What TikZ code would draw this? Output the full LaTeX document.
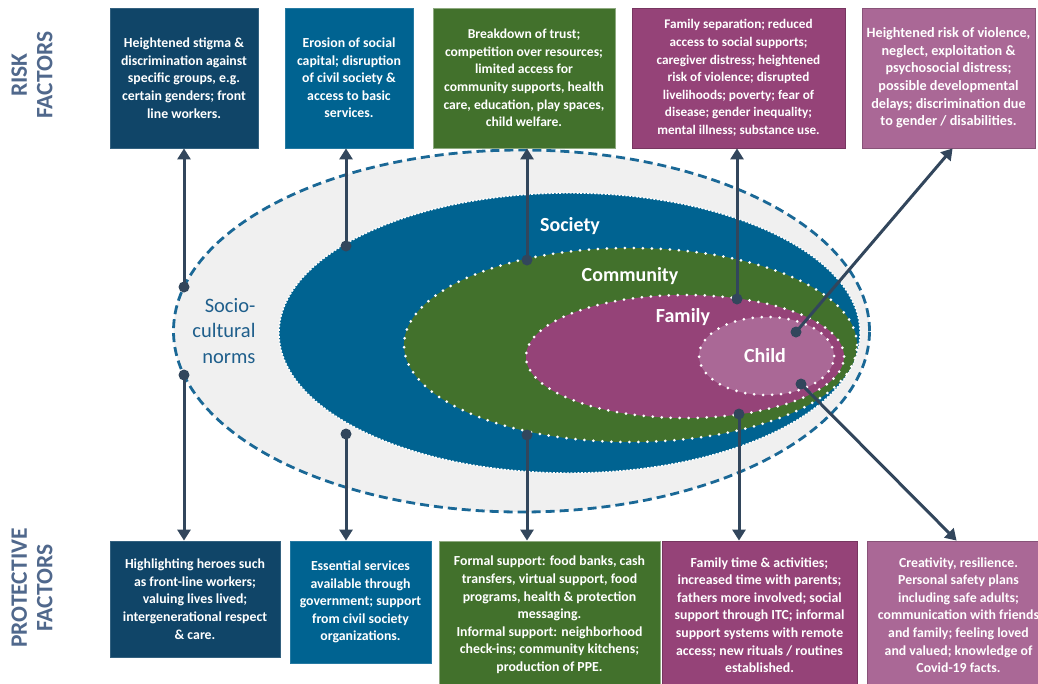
\documentclass[tikz,border=0pt]{standalone}
\usepackage{fontspec}
\setmainfont{Carlito}
\usetikzlibrary{shapes.geometric,arrows.meta,calc}
\definecolor{cnavy}{RGB}{16,69,104}
\definecolor{cblue}{RGB}{0,99,145}
\definecolor{cgreen}{RGB}{66,113,44}
\definecolor{cpurple}{RGB}{149,67,120}
\definecolor{clpurple}{RGB}{170,104,150}
\definecolor{cgray}{RGB}{240,240,240}
\definecolor{cline}{RGB}{50,70,92}
\definecolor{cdash}{RGB}{26,104,150}
\definecolor{clabel}{RGB}{80,104,140}
\definecolor{cnorm}{RGB}{31,95,140}
\newcommand\bxfont[1]{\fontsize{#1}{17.6}\selectfont\bfseries}
\begin{document}
\begin{tikzpicture}[x=1pt,y=-1pt,
  box/.style={rectangle, inner sep=0pt, text=white, align=center,
    font=\bxfont{13.8}, line width=0.8pt},
  conn/.style={draw=cline, line width=3pt, -{Triangle[length=11pt,width=13pt]}},
  dotm/.style={circle, fill=cline, inner sep=0pt, minimum size=11pt},
  ring/.style={ellipse, inner sep=0pt},
  dotring/.style={draw=white, line width=3pt, line cap=round, dash pattern=on 0pt off 9pt},
  ringlabel/.style={text=white, font=\fontsize{20}{24}\selectfont\bfseries},
  sidelabel/.style={rotate=90, align=center, text=clabel, font=\fontsize{23.5}{25.5}\selectfont\bfseries}
]
\useasboundingbox (0,0) rectangle (1038,683);
\clip (0,0) rectangle (1038,683);

% rings
\node[ring, fill=cgray, draw=cdash, line width=2.8pt, dash pattern=on 9pt off 5pt,
  minimum width=696pt, minimum height=362pt] (norms) at (521.5,331) {};
\node[ring, fill=cblue, draw=white, line width=1.4pt, dash pattern=on 2pt off 1.5pt,
  minimum width=581pt, minimum height=280pt] (society) at (569.5,333) {};
\node[ring, fill=cgreen, dotring, minimum width=453pt, minimum height=194pt] (community) at (630.5,345) {};
\node[ring, fill=cpurple, dotring, minimum width=318pt, minimum height=123pt] (family) at (685,356.5) {};
\node[ring, fill=clpurple, dotring, minimum width=135pt, minimum height=78pt] (child) at (766.5,356) {};

% ring labels
\node[ringlabel] (lsoc) at (570,226) {Society};
\node[ringlabel] (lcom) at (630,276) {Community};
\node[ringlabel] (lfam) at (683,317) {Family};
\node[ringlabel] (lchi) at (765,356) {Child};
\node[anchor=east, align=right, text=cnorm, font=\fontsize{20.5}{25.5}\selectfont] (lnorm) at (259,331) {Socio-\\cultural\\norms};

% side labels
\node[sidelabel] (risk) at (32,75) {RISK\\FACTORS};
\node[sidelabel] (prot) at (32,588) {PROTECTIVE\\FACTORS};

% risk boxes
\node[box, fill=cnavy, draw=cnavy!85!white, minimum width=148pt, minimum height=140pt] (t1) at (184,78)
  {Heightened stigma \&\\discrimination against\\specific groups, e.g.\\certain genders; front\\line workers.};
\node[box, fill=cblue, draw=cblue!85!white, minimum width=128pt, minimum height=140pt] (t2) at (349,78)
  {Erosion of social\\capital; disruption\\of civil society \&\\access to basic\\services.};
\node[box, fill=cgreen, draw=cgreen!60!white, minimum width=182pt, minimum height=140pt, font=\bxfont{13.6}] (t3) at (524,78)
  {Breakdown of trust;\\competition over resources;\\limited access for\\community supports, health\\care, education, play spaces,\\child welfare.};
\node[box, fill=cpurple, draw=cpurple!80!black, minimum width=213pt, minimum height=140pt, font=\bxfont{13.2}] (t4) at (738.5,78)
  {Family separation; reduced\\access to social supports;\\caregiver distress; heightened\\risk of violence; disrupted\\livelihoods; poverty; fear of\\disease; gender inequality;\\mental illness; substance use.};
\node[box, fill=clpurple, draw=clpurple!80!black, minimum width=173pt, minimum height=140pt, font=\bxfont{14.2}] (t5) at (948.5,78)
  {Heightened risk of violence,\\neglect, exploitation \&\\psychosocial distress;\\possible developmental\\delays; discrimination due\\to gender / disabilities.};

% protective boxes
\node[box, fill=cnavy, draw=cnavy!85!white, minimum width=170pt, minimum height=116pt] (b1) at (195,599)
  {Highlighting heroes such\\as front-line workers;\\valuing lives lived;\\intergenerational respect\\\& care.};
\node[box, fill=cblue, draw=cblue!85!white, minimum width=141pt, minimum height=122pt] (b2) at (360.5,602)
  {Essential services\\available through\\government; support\\from civil society\\organizations.};
\node[box, fill=cgreen, draw=cgreen!60!white, minimum width=221pt, minimum height=148pt] (b3) at (549.5,615)
  {Formal support: food banks, cash\\transfers, virtual support, food\\programs, health \& protection\\messaging.\\Informal support: neighborhood\\check-ins; community kitchens;\\production of PPE.};
\node[box, fill=cpurple, draw=cpurple!80!black, minimum width=195pt, minimum height=148pt] (b4) at (759.5,615)
  {Family time \& activities;\\increased time with parents;\\fathers more involved; social\\support through ITC; informal\\support systems with remote\\access; new rituals / routines\\established.};
\node[box, fill=clpurple, draw=clpurple!80!black, minimum width=183pt, minimum height=148pt] (b5) at (958.5,615)
  {Creativity, resilience.\\Personal safety plans\\including safe adults;\\communication with friends\\and family; feeling loved\\and valued; knowledge of\\Covid-19 facts.};

% dot positions
\coordinate (p1t) at (184,287);
\coordinate (p1b) at (184,375);
\coordinate (p2t) at (346,246);
\coordinate (p2b) at (346,434);
\coordinate (p3t) at (527,260);
\coordinate (p3b) at (527,435);
\coordinate (p4t) at (737,299);
\coordinate (p4b) at (739,414);
\coordinate (p5t) at (796,332);
\coordinate (p5b) at (801,384);

% connectors
\draw[conn] (p1t) -- (p1t |- t1.south);
\draw[conn] (p1b) -- (p1b |- b1.north);
\draw[conn] (p2t) -- (p2t |- t2.south);
\draw[conn] (p2b) -- (p2b |- b2.north);
\draw[conn] (p3t) -- (p3t |- t3.south);
\draw[conn] (p3b) -- (p3b |- b3.north);
\draw[conn] (p4t) -- (p4t |- t4.south);
\draw[conn] (p4b) -- (p4b |- b4.north);
\draw[conn] (p5t) -- ([xshift=91pt]t5.south west);
\draw[conn] (p5b) -- ([xshift=90pt]b5.north west);

% dots
\foreach \p in {p1t,p1b,p2t,p2b,p3t,p3b,p4t,p4b,p5t,p5b}
  \node[dotm] (dot-\p) at (\p) {};
\end{tikzpicture}
\end{document}
